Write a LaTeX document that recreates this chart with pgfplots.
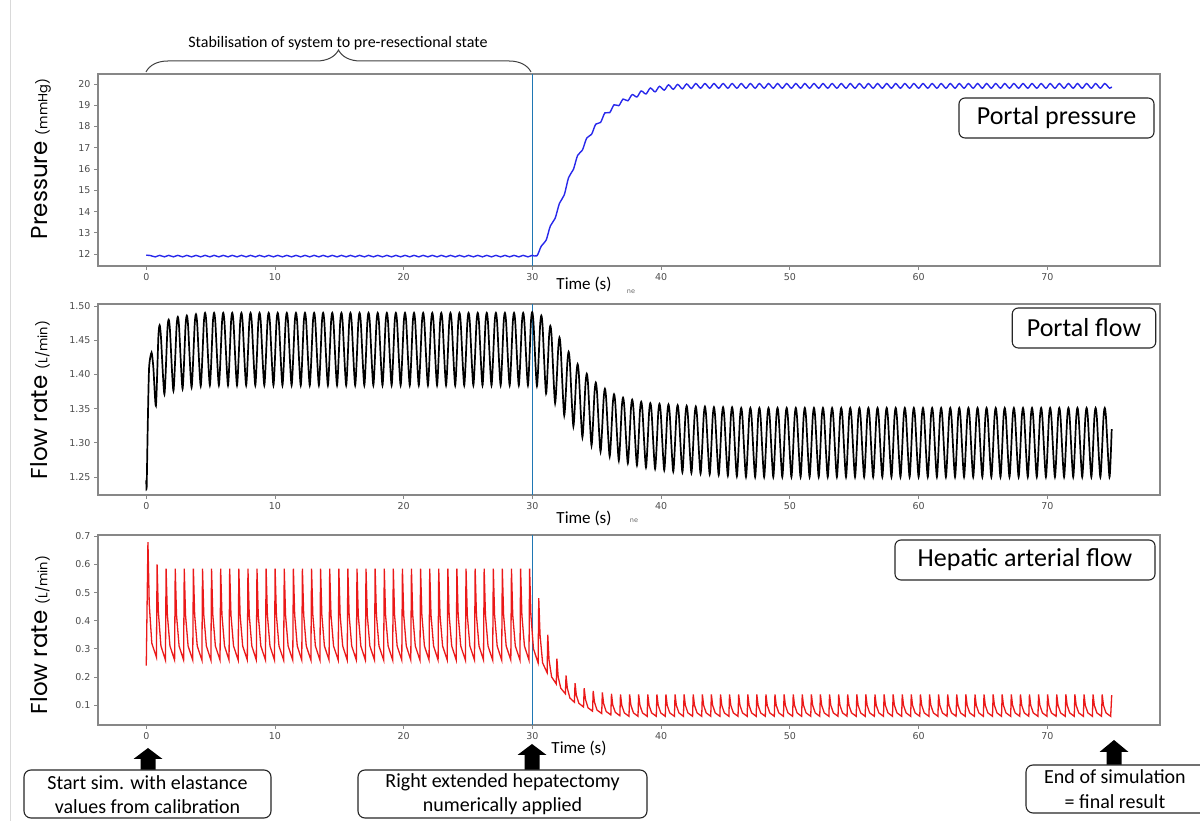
\documentclass[border=0pt]{standalone}
\usepackage{pgfplots}
\pgfplotsset{compat=1.18}
\usepackage{fontspec}
\setmainfont{Carlito}
\newfontfamily\dejavu{DejaVu Sans}
\newfontfamily\pop{Poppins}
\usetikzlibrary{decorations.pathreplacing}
\definecolor{tabblue}{RGB}{31,119,180}
\definecolor{pblue}{RGB}{40,40,235}
\definecolor{pred}{RGB}{235,25,25}
\definecolor{framec}{RGB}{135,135,135}
\pgfplotsset{
  panel/.style={
    anchor=south west, scale only axis, width=1062pt,
    xmin=-3.75, xmax=78.75,
    xtick={0,10,20,30,40,50,60,70},
    tick pos=left, tick align=outside,
    major tick length=4pt,
    every tick/.style={framec, line width=0.8pt},
    axis line style={framec, line width=1.2pt},
    tick label style={font=\dejavu\fontsize{9.5}{11}\selectfont, text=black!70},
    /pgf/number format/assume math mode=true,
  },
}
\newcommand{\uparr}[4]{\fill[black] (#1,#2) -- (#1+14.5,#3) -- (#1+7.5,#3) -- (#1+7.5,#4) -- (#1-7.5,#4) -- (#1-7.5,#3) -- (#1-14.5,#3) -- cycle;}
\begin{document}
\begin{tikzpicture}[x=1pt,y=1pt]
\path[use as bounding box] (0,0) rectangle (1200,821);
\draw[black!15, line width=1pt] (10,0) -- (10,821);

% ---------- top: portal pressure
\begin{axis}[panel, at={(98pt,555pt)}, height=192pt,
  ymin=11.44, ymax=20.47, ytick={12,13,14,15,16,17,18,19,20}]
\addplot[tabblue, line width=1.1pt] coordinates {(30,11.44) (30,20.47)};
\addplot[pblue, line width=1.4pt, smooth] coordinates {
(0,11.95) (0.33,11.93) (0.70,11.87)
(1.04,11.94) (1.41,11.87) (1.74,11.94) (2.11,11.87) (2.45,11.94) (2.82,11.87) (3.15,11.94) (3.52,11.87) (3.86,11.94) (4.23,11.87) (4.57,11.94) (4.94,11.87) (5.27,11.94) (5.64,11.87) (5.98,11.94) (6.35,11.87) (6.68,11.94) (7.05,11.87) (7.39,11.94) (7.76,11.87) (8.10,11.94) (8.47,11.87) (8.80,11.94) (9.17,11.87) (9.51,11.94) (9.88,11.87) (10.21,11.94) (10.58,11.87) (10.92,11.94) (11.29,11.87) (11.63,11.94) (12.00,11.87) (12.33,11.94) (12.70,11.87) (13.04,11.94) (13.41,11.87) (13.74,11.94) (14.11,11.87) (14.45,11.94) (14.82,11.87) (15.16,11.94) (15.53,11.87) (15.86,11.94) (16.23,11.87) (16.57,11.94) (16.94,11.87) (17.27,11.94) (17.64,11.87) (17.98,11.94) (18.35,11.87) (18.69,11.94) (19.06,11.87) (19.39,11.94) (19.76,11.87) (20.10,11.94) (20.47,11.87) (20.80,11.94) (21.17,11.87) (21.51,11.94) (21.88,11.87) (22.22,11.94) (22.59,11.87) (22.92,11.94) (23.29,11.87) (23.63,11.94) (24.00,11.87) (24.33,11.94) (24.70,11.87) (25.04,11.94) (25.41,11.87) (25.75,11.94) (26.12,11.87) (26.45,11.94) (26.82,11.87) (27.16,11.94) (27.53,11.87) (27.86,11.94) (28.23,11.87) (28.57,11.94) (28.94,11.87) (29.28,11.94) (29.65,11.87)
(29.98,11.94) (30.35,11.92) (30.69,12.38) (31.06,12.65) (31.39,13.32) (31.76,13.68) (32.10,14.39) (32.47,14.78) (32.81,15.60) (33.18,15.98) (33.51,16.64) (33.88,16.89) (34.22,17.46) (34.59,17.63) (34.92,18.11) (35.29,18.19) (35.63,18.64) (36.00,18.65) (36.34,19.02) (36.71,18.98) (37.04,19.29) (37.41,19.21) (37.75,19.50) (38.12,19.39) (38.45,19.67) (38.82,19.53) (39.16,19.81) (39.53,19.63) (39.87,19.89) (40.24,19.71) (40.57,19.96) (40.94,19.75) (41.28,19.98) (41.65,19.77) (41.98,20.00) (42.35,19.79)
(42.69,20.02) (43.06,19.80) (43.40,20.02) (43.77,19.80) (44.10,20.02) (44.47,19.80) (44.81,20.02) (45.18,19.80) (45.51,20.02) (45.88,19.80) (46.22,20.02) (46.59,19.80) (46.93,20.02) (47.30,19.80) (47.63,20.02) (48.00,19.80) (48.34,20.02) (48.71,19.80) (49.04,20.02) (49.41,19.80) (49.75,20.02) (50.12,19.80) (50.46,20.02) (50.83,19.80) (51.16,20.02) (51.53,19.80) (51.87,20.02) (52.24,19.80) (52.57,20.02) (52.94,19.80) (53.28,20.02) (53.65,19.80) (53.99,20.02) (54.36,19.80) (54.69,20.02) (55.06,19.80) (55.40,20.02) (55.77,19.80) (56.10,20.02) (56.47,19.80) (56.81,20.02) (57.18,19.80) (57.52,20.02) (57.89,19.80) (58.22,20.02) (58.59,19.80) (58.93,20.02) (59.30,19.80) (59.63,20.02) (60.00,19.80) (60.34,20.02) (60.71,19.80) (61.05,20.02) (61.42,19.80) (61.75,20.02) (62.12,19.80) (62.46,20.02) (62.83,19.80) (63.16,20.02) (63.53,19.80) (63.87,20.02) (64.24,19.80) (64.58,20.02) (64.95,19.80) (65.28,20.02) (65.65,19.80) (65.99,20.02) (66.36,19.80) (66.69,20.02) (67.06,19.80) (67.40,20.02) (67.77,19.80) (68.11,20.02) (68.48,19.80) (68.81,20.02) (69.18,19.80) (69.52,20.02) (69.89,19.80) (70.22,20.02) (70.59,19.80) (70.93,20.02) (71.30,19.80) (71.64,20.02) (72.01,19.80) (72.34,20.02) (72.71,19.80) (73.05,20.02) (73.42,19.80) (73.75,20.02) (74.12,19.80) (74.46,20.02) (74.83,19.80) (75.00,19.87)
};
\end{axis}

% ---------- middle: portal flow
\begin{axis}[panel, at={(98pt,326pt)}, height=191pt,
  ymin=1.2237, ymax=1.503, ytick={1.25,1.30,1.35,1.40,1.45,1.50},
  yticklabels={1.25,1.30,1.35,1.40,1.45,1.50}]
\addplot[tabblue, line width=1.1pt] coordinates {(30,1.2237) (30,1.503)};
\addplot[black, line width=1.7pt, smooth, tension=0.4] coordinates {
(0,1.245) (0.03,1.235) (0.12,1.33) (0.22,1.41) (0.41,1.432) (0.55,1.41) (0.75,1.354)
(0.94,1.455) (1.04,1.472) (1.14,1.455) (1.41,1.371)
(1.64,1.465) (1.74,1.480) (1.84,1.465) (2.11,1.376)
(2.35,1.469) (2.45,1.484) (2.55,1.469) (2.82,1.379)
(3.05,1.471) (3.15,1.486) (3.25,1.471) (3.52,1.381)
(3.76,1.473) (3.86,1.488) (3.96,1.473) (4.23,1.383)
(4.47,1.475) (4.57,1.49) (4.67,1.475) (4.94,1.384)
(5.17,1.475) (5.27,1.49) (5.37,1.475) (5.64,1.384)
(5.88,1.475) (5.98,1.49) (6.08,1.475) (6.35,1.384)
(6.58,1.475) (6.68,1.49) (6.78,1.475) (7.05,1.384)
(7.29,1.475) (7.39,1.49) (7.49,1.475) (7.76,1.384)
(8.00,1.475) (8.10,1.49) (8.20,1.475) (8.47,1.384)
(8.70,1.475) (8.80,1.49) (8.90,1.475) (9.17,1.384)
(9.41,1.475) (9.51,1.49) (9.61,1.475) (9.88,1.384)
(10.11,1.475) (10.21,1.49) (10.31,1.475) (10.58,1.384)
(10.82,1.475) (10.92,1.49) (11.02,1.475) (11.29,1.384)
(11.53,1.475) (11.63,1.49) (11.73,1.475) (12.00,1.384)
(12.23,1.475) (12.33,1.49) (12.43,1.475) (12.70,1.384)
(12.94,1.475) (13.04,1.49) (13.14,1.475) (13.41,1.384)
(13.64,1.475) (13.74,1.49) (13.84,1.475) (14.11,1.384)
(14.35,1.475) (14.45,1.49) (14.55,1.475) (14.82,1.384)
(15.06,1.475) (15.16,1.49) (15.26,1.475) (15.53,1.384)
(15.76,1.475) (15.86,1.49) (15.96,1.475) (16.23,1.384)
(16.47,1.475) (16.57,1.49) (16.67,1.475) (16.94,1.384)
(17.17,1.475) (17.27,1.49) (17.37,1.475) (17.64,1.384)
(17.88,1.475) (17.98,1.49) (18.08,1.475) (18.35,1.384)
(18.59,1.475) (18.69,1.49) (18.79,1.475) (19.06,1.384)
(19.29,1.475) (19.39,1.49) (19.49,1.475) (19.76,1.384)
(20.00,1.475) (20.10,1.49) (20.20,1.475) (20.47,1.384)
(20.70,1.475) (20.80,1.49) (20.90,1.475) (21.17,1.384)
(21.41,1.475) (21.51,1.49) (21.61,1.475) (21.88,1.384)
(22.12,1.475) (22.22,1.49) (22.32,1.475) (22.59,1.384)
(22.82,1.475) (22.92,1.49) (23.02,1.475) (23.29,1.384)
(23.53,1.475) (23.63,1.49) (23.73,1.475) (24.00,1.384)
(24.23,1.475) (24.33,1.49) (24.43,1.475) (24.70,1.384)
(24.94,1.475) (25.04,1.49) (25.14,1.475) (25.41,1.384)
(25.65,1.475) (25.75,1.49) (25.85,1.475) (26.12,1.384)
(26.35,1.475) (26.45,1.49) (26.55,1.475) (26.82,1.384)
(27.06,1.475) (27.16,1.49) (27.26,1.475) (27.53,1.384)
(27.76,1.475) (27.86,1.49) (27.96,1.475) (28.23,1.384)
(28.47,1.475) (28.57,1.49) (28.67,1.475) (28.94,1.384)
(29.18,1.475) (29.28,1.49) (29.38,1.475) (29.65,1.384)
(29.88,1.476) (29.98,1.491) (30.08,1.476) (30.35,1.383)
(30.59,1.470) (30.69,1.486) (30.79,1.470) (31.06,1.372)
(31.29,1.455) (31.39,1.471) (31.49,1.455) (31.76,1.358)
(32.00,1.437) (32.10,1.454) (32.20,1.437) (32.47,1.340)
(32.71,1.417) (32.81,1.433) (32.91,1.417) (33.18,1.324)
(33.41,1.399) (33.51,1.415) (33.61,1.399) (33.88,1.308)
(34.12,1.386) (34.22,1.401) (34.32,1.386) (34.59,1.296)
(34.82,1.373) (34.92,1.388) (35.02,1.373) (35.29,1.287)
(35.53,1.364) (35.63,1.379) (35.73,1.364) (36.00,1.280)
(36.24,1.357) (36.34,1.371) (36.44,1.357) (36.71,1.274)
(36.94,1.352) (37.04,1.366) (37.14,1.352) (37.41,1.270)
(37.65,1.349) (37.75,1.363) (37.85,1.349) (38.12,1.267)
(38.35,1.346) (38.45,1.360) (38.55,1.346) (38.82,1.264)
(39.06,1.344) (39.16,1.358) (39.26,1.344) (39.53,1.262)
(39.77,1.343) (39.87,1.357) (39.97,1.343) (40.24,1.260)
(40.47,1.341) (40.57,1.356) (40.67,1.341) (40.94,1.258)
(41.18,1.340) (41.28,1.355) (41.38,1.340) (41.65,1.257)
(41.88,1.339) (41.98,1.354) (42.08,1.339) (42.35,1.256)
(42.59,1.338) (42.69,1.353) (42.79,1.338) (43.06,1.255)
(43.30,1.338) (43.40,1.353) (43.50,1.338) (43.77,1.254)
(44.00,1.337) (44.10,1.352) (44.20,1.337) (44.47,1.253)
(44.71,1.337) (44.81,1.352) (44.91,1.337) (45.18,1.252)
(45.41,1.337) (45.51,1.352) (45.61,1.337) (45.88,1.251)
(46.12,1.336) (46.22,1.351) (46.32,1.336) (46.59,1.250)
(46.83,1.336) (46.93,1.351) (47.03,1.336) (47.30,1.250)
(47.53,1.336) (47.63,1.351) (47.73,1.336) (48.00,1.250)
(48.24,1.336) (48.34,1.351) (48.44,1.336) (48.71,1.250)
(48.94,1.336) (49.04,1.351) (49.14,1.336) (49.41,1.250)
(49.65,1.336) (49.75,1.351) (49.85,1.336) (50.12,1.250)
(50.36,1.336) (50.46,1.351) (50.56,1.336) (50.83,1.250)
(51.06,1.336) (51.16,1.351) (51.26,1.336) (51.53,1.250)
(51.77,1.336) (51.87,1.351) (51.97,1.336) (52.24,1.250)
(52.47,1.336) (52.57,1.351) (52.67,1.336) (52.94,1.250)
(53.18,1.336) (53.28,1.351) (53.38,1.336) (53.65,1.250)
(53.89,1.336) (53.99,1.351) (54.09,1.336) (54.36,1.250)
(54.59,1.336) (54.69,1.351) (54.79,1.336) (55.06,1.250)
(55.30,1.336) (55.40,1.351) (55.50,1.336) (55.77,1.250)
(56.00,1.336) (56.10,1.351) (56.20,1.336) (56.47,1.250)
(56.71,1.336) (56.81,1.351) (56.91,1.336) (57.18,1.250)
(57.42,1.336) (57.52,1.351) (57.62,1.336) (57.89,1.250)
(58.12,1.336) (58.22,1.351) (58.32,1.336) (58.59,1.250)
(58.83,1.336) (58.93,1.351) (59.03,1.336) (59.30,1.250)
(59.53,1.336) (59.63,1.351) (59.73,1.336) (60.00,1.250)
(60.24,1.336) (60.34,1.351) (60.44,1.336) (60.71,1.250)
(60.95,1.336) (61.05,1.351) (61.15,1.336) (61.42,1.250)
(61.65,1.336) (61.75,1.351) (61.85,1.336) (62.12,1.250)
(62.36,1.336) (62.46,1.351) (62.56,1.336) (62.83,1.250)
(63.06,1.336) (63.16,1.351) (63.26,1.336) (63.53,1.250)
(63.77,1.336) (63.87,1.351) (63.97,1.336) (64.24,1.250)
(64.48,1.336) (64.58,1.351) (64.68,1.336) (64.95,1.250)
(65.18,1.336) (65.28,1.351) (65.38,1.336) (65.65,1.250)
(65.89,1.336) (65.99,1.351) (66.09,1.336) (66.36,1.250)
(66.59,1.336) (66.69,1.351) (66.79,1.336) (67.06,1.250)
(67.30,1.336) (67.40,1.351) (67.50,1.336) (67.77,1.250)
(68.01,1.336) (68.11,1.351) (68.21,1.336) (68.48,1.250)
(68.71,1.336) (68.81,1.351) (68.91,1.336) (69.18,1.250)
(69.42,1.336) (69.52,1.351) (69.62,1.336) (69.89,1.250)
(70.12,1.336) (70.22,1.351) (70.32,1.336) (70.59,1.250)
(70.83,1.336) (70.93,1.351) (71.03,1.336) (71.30,1.250)
(71.54,1.336) (71.64,1.351) (71.74,1.336) (72.01,1.250)
(72.24,1.336) (72.34,1.351) (72.44,1.336) (72.71,1.250)
(72.95,1.336) (73.05,1.351) (73.15,1.336) (73.42,1.250)
(73.65,1.336) (73.75,1.351) (73.85,1.336) (74.12,1.250)
(74.36,1.336) (74.46,1.351) (74.56,1.336) (74.83,1.250)
(75.00,1.320)
};
\end{axis}

% ---------- bottom: hepatic arterial flow
\begin{axis}[panel, at={(98pt,96pt)}, height=190pt,
  ymin=0.029, ymax=0.705, ytick={0.1,0.2,0.3,0.4,0.5,0.6,0.7},
  yticklabels={0.1,0.2,0.3,0.4,0.5,0.6,0.7}]
\addplot[tabblue, line width=1.1pt] coordinates {(30,0.029) (30,0.705)};
\addplot[pred, line width=1.3pt] coordinates {
(0,.24) (0.13,.68) (0.23,.46) (0.43,.32) (0.79,.27)
(0.84,.60) (0.94,.43) (1.14,.31) (1.49,.26)
(1.54,.585) (1.64,.42) (1.84,.31) (2.20,.26)
(2.25,.585) (2.35,.42) (2.55,.31) (2.90,.26)
(2.95,.585) (3.05,.42) (3.25,.31) (3.61,.26)
(3.66,.585) (3.76,.42) (3.96,.31) (4.32,.26)
(4.37,.585) (4.47,.42) (4.67,.31) (5.02,.26)
(5.07,.585) (5.17,.42) (5.37,.31) (5.73,.26)
(5.78,.585) (5.88,.42) (6.08,.31) (6.43,.26)
(6.48,.585) (6.58,.42) (6.78,.31) (7.14,.26)
(7.19,.585) (7.29,.42) (7.49,.31) (7.85,.26)
(7.90,.585) (8.00,.42) (8.20,.31) (8.55,.26)
(8.60,.585) (8.70,.42) (8.90,.31) (9.26,.26)
(9.31,.585) (9.41,.42) (9.61,.31) (9.96,.26)
(10.01,.585) (10.11,.42) (10.31,.31) (10.67,.26)
(10.72,.585) (10.82,.42) (11.02,.31) (11.38,.26)
(11.43,.585) (11.53,.42) (11.73,.31) (12.08,.26)
(12.13,.585) (12.23,.42) (12.43,.31) (12.79,.26)
(12.84,.585) (12.94,.42) (13.14,.31) (13.49,.26)
(13.54,.585) (13.64,.42) (13.84,.31) (14.20,.26)
(14.25,.585) (14.35,.42) (14.55,.31) (14.91,.26)
(14.96,.585) (15.06,.42) (15.26,.31) (15.61,.26)
(15.66,.585) (15.76,.42) (15.96,.31) (16.32,.26)
(16.37,.585) (16.47,.42) (16.67,.31) (17.02,.26)
(17.07,.585) (17.17,.42) (17.37,.31) (17.73,.26)
(17.78,.585) (17.88,.42) (18.08,.31) (18.44,.26)
(18.49,.585) (18.59,.42) (18.79,.31) (19.14,.26)
(19.19,.585) (19.29,.42) (19.49,.31) (19.85,.26)
(19.90,.585) (20.00,.42) (20.20,.31) (20.55,.26)
(20.60,.585) (20.70,.42) (20.90,.31) (21.26,.26)
(21.31,.585) (21.41,.42) (21.61,.31) (21.97,.26)
(22.02,.585) (22.12,.42) (22.32,.31) (22.67,.26)
(22.72,.585) (22.82,.42) (23.02,.31) (23.38,.26)
(23.43,.585) (23.53,.42) (23.73,.31) (24.08,.26)
(24.13,.585) (24.23,.42) (24.43,.31) (24.79,.26)
(24.84,.585) (24.94,.42) (25.14,.31) (25.50,.26)
(25.55,.585) (25.65,.42) (25.85,.31) (26.20,.26)
(26.25,.585) (26.35,.42) (26.55,.31) (26.91,.26)
(26.96,.585) (27.06,.42) (27.26,.31) (27.61,.26)
(27.66,.585) (27.76,.42) (27.96,.31) (28.32,.26)
(28.37,.585) (28.47,.42) (28.67,.31) (29.03,.26)
(29.08,.585) (29.18,.42) (29.38,.31) (29.73,.26)
(29.78,.585) (29.88,.42) (30.08,.30) (30.44,.25)
(30.49,.48) (30.59,.35) (30.79,.25) (31.14,.215)
(31.19,.35) (31.29,.26) (31.49,.20) (31.85,.175)
(31.90,.265) (32.00,.20) (32.20,.16) (32.56,.14)
(32.61,.205) (32.71,.16) (32.91,.125) (33.26,.11)
(33.31,.178) (33.41,.135) (33.61,.106) (33.97,.093)
(34.02,.16) (34.12,.12) (34.32,.09) (34.67,.078)
(34.72,.15) (34.82,.11) (35.02,.082) (35.38,.07)
(35.43,.145) (35.53,.105) (35.73,.077) (36.09,.065)
(36.14,.14) (36.24,.10) (36.44,.074) (36.79,.062)
(36.84,.138) (36.94,.099) (37.14,.072) (37.50,.06)
(37.55,.138) (37.65,.099) (37.85,.072) (38.20,.06)
(38.25,.138) (38.35,.099) (38.55,.072) (38.91,.06)
(38.96,.138) (39.06,.099) (39.26,.072) (39.62,.06)
(39.67,.138) (39.77,.099) (39.97,.072) (40.32,.06)
(40.37,.138) (40.47,.099) (40.67,.072) (41.03,.06)
(41.08,.138) (41.18,.099) (41.38,.072) (41.73,.06)
(41.78,.138) (41.88,.099) (42.08,.072) (42.44,.06)
(42.49,.138) (42.59,.099) (42.79,.072) (43.15,.06)
(43.20,.138) (43.30,.099) (43.50,.072) (43.85,.06)
(43.90,.138) (44.00,.099) (44.20,.072) (44.56,.06)
(44.61,.138) (44.71,.099) (44.91,.072) (45.26,.06)
(45.31,.138) (45.41,.099) (45.61,.072) (45.97,.06)
(46.02,.138) (46.12,.099) (46.32,.072) (46.68,.06)
(46.73,.138) (46.83,.099) (47.03,.072) (47.38,.06)
(47.43,.138) (47.53,.099) (47.73,.072) (48.09,.06)
(48.14,.138) (48.24,.099) (48.44,.072) (48.79,.06)
(48.84,.138) (48.94,.099) (49.14,.072) (49.50,.06)
(49.55,.138) (49.65,.099) (49.85,.072) (50.21,.06)
(50.26,.138) (50.36,.099) (50.56,.072) (50.91,.06)
(50.96,.138) (51.06,.099) (51.26,.072) (51.62,.06)
(51.67,.138) (51.77,.099) (51.97,.072) (52.32,.06)
(52.37,.138) (52.47,.099) (52.67,.072) (53.03,.06)
(53.08,.138) (53.18,.099) (53.38,.072) (53.74,.06)
(53.79,.138) (53.89,.099) (54.09,.072) (54.44,.06)
(54.49,.138) (54.59,.099) (54.79,.072) (55.15,.06)
(55.20,.138) (55.30,.099) (55.50,.072) (55.85,.06)
(55.90,.138) (56.00,.099) (56.20,.072) (56.56,.06)
(56.61,.138) (56.71,.099) (56.91,.072) (57.27,.06)
(57.32,.138) (57.42,.099) (57.62,.072) (57.97,.06)
(58.02,.138) (58.12,.099) (58.32,.072) (58.68,.06)
(58.73,.138) (58.83,.099) (59.03,.072) (59.38,.06)
(59.43,.138) (59.53,.099) (59.73,.072) (60.09,.06)
(60.14,.138) (60.24,.099) (60.44,.072) (60.80,.06)
(60.85,.138) (60.95,.099) (61.15,.072) (61.50,.06)
(61.55,.138) (61.65,.099) (61.85,.072) (62.21,.06)
(62.26,.138) (62.36,.099) (62.56,.072) (62.91,.06)
(62.96,.138) (63.06,.099) (63.26,.072) (63.62,.06)
(63.67,.138) (63.77,.099) (63.97,.072) (64.33,.06)
(64.38,.138) (64.48,.099) (64.68,.072) (65.03,.06)
(65.08,.138) (65.18,.099) (65.38,.072) (65.74,.06)
(65.79,.138) (65.89,.099) (66.09,.072) (66.44,.06)
(66.49,.138) (66.59,.099) (66.79,.072) (67.15,.06)
(67.20,.138) (67.30,.099) (67.50,.072) (67.86,.06)
(67.91,.138) (68.01,.099) (68.21,.072) (68.56,.06)
(68.61,.138) (68.71,.099) (68.91,.072) (69.27,.06)
(69.32,.138) (69.42,.099) (69.62,.072) (69.97,.06)
(70.02,.138) (70.12,.099) (70.32,.072) (70.68,.06)
(70.73,.138) (70.83,.099) (71.03,.072) (71.39,.06)
(71.44,.138) (71.54,.099) (71.74,.072) (72.09,.06)
(72.14,.138) (72.24,.099) (72.44,.072) (72.80,.06)
(72.85,.138) (72.95,.099) (73.15,.072) (73.50,.06)
(73.55,.138) (73.65,.099) (73.85,.072) (74.21,.06)
(74.26,.138) (74.36,.099) (74.56,.072) (74.92,.06)
(75.00,.135)
};
\end{axis}

% ---------- y labels
\node[rotate=90, inner sep=0pt] at (41,662) {\pop\fontsize{23}{26}\selectfont Pressure \fontsize{13}{15}\selectfont(mmHg)};
\node[rotate=90, inner sep=0pt] at (40,421) {\pop\fontsize{23}{26}\selectfont Flow rate \fontsize{13}{15}\selectfont(L/min)};
\node[rotate=90, inner sep=0pt] at (40,186) {\pop\fontsize{23}{26}\selectfont Flow rate \fontsize{13}{15}\selectfont(L/min)};

% ---------- Time (s) labels
\node[font=\fontsize{17}{20}\selectfont] at (584,537) {Time (s)};
\node[font=\fontsize{17}{20}\selectfont] at (584,303) {Time (s)};
\node[font=\fontsize{17}{20}\selectfont] at (579,73) {Time (s)};
\node[font=\dejavu\fontsize{6.5}{8}\selectfont, text=black!60] at (631,529) {ne};
\node[font=\dejavu\fontsize{6.5}{8}\selectfont, text=black!60] at (634,300) {ne};

% ---------- panel labels
\node[draw=black!85, rounded corners=6pt, line width=1.1pt, fill=white, minimum width=195pt, minimum height=40pt, font=\fontsize{26}{28}\selectfont] at (1056.5,703) {Portal pressure};
\node[draw=black!85, rounded corners=6pt, line width=1.1pt, fill=white, minimum width=143.5pt, minimum height=40pt, font=\fontsize{26}{28}\selectfont] at (1084,493) {Portal flow};
\node[draw=black!85, rounded corners=6pt, line width=1.1pt, fill=white, minimum width=260pt, minimum height=40pt, font=\fontsize{26}{28}\selectfont] at (1025,261) {Hepatic arterial flow};

% ---------- top brace + title
\draw[black!75, line width=1pt, decorate, decoration={brace, amplitude=22pt}] (146,749) -- (531,749);
\node[font=\fontsize{16}{19}\selectfont] at (338,778) {Stabilisation of system to pre-resectional state};

% ---------- bottom arrows + boxes
\uparr{148}{73}{62}{51}
\uparr{532}{77}{66}{51}
\uparr{1114}{81}{69}{56}
\draw[black!85, line width=1.1pt, rounded corners=7pt, fill=white] (24,3) rectangle (271,51);
\node[align=center, font=\fontsize{20}{24}\selectfont] at (147.5,26.5) {Start sim. with elastance\\values from calibration};
\draw[black!85, line width=1.1pt, rounded corners=7pt, fill=white] (358,3) rectangle (647,51);
\node[align=center, font=\fontsize{20}{24}\selectfont] at (502.5,26.5) {Right extended hepatectomy\\numerically applied};
\draw[black!85, line width=1.1pt, rounded corners=7pt, fill=white] (1026,8) rectangle (1215,56);
\node[align=center, font=\fontsize{20}{25}\selectfont] at (1115,31.5) {End of simulation\\= final result};
\end{tikzpicture}
\end{document}
